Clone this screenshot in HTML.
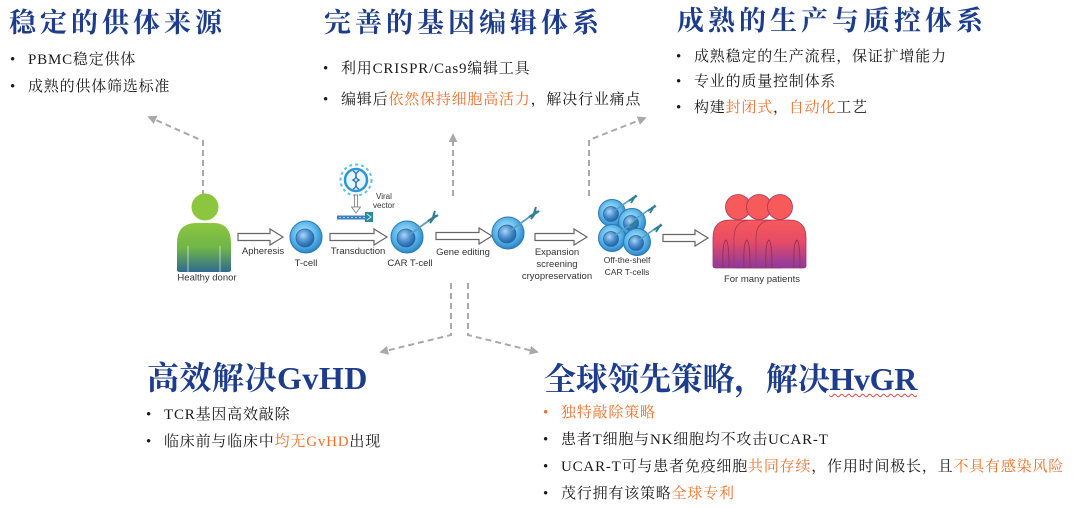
<!DOCTYPE html>
<html><head><meta charset="utf-8">
<style>
html,body{margin:0;padding:0;}
body{width:1080px;height:508px;background:#fff;position:relative;overflow:hidden;font-family:"Liberation Serif","Noto Serif CJK SC",serif;}
.t{position:absolute;font-family:"Liberation Serif","Noto Serif CJK SC",serif;font-weight:bold;color:#1d3d8c;font-size:27px;line-height:34px;letter-spacing:4px;white-space:nowrap;}
.t2{font-size:32px;line-height:38px;letter-spacing:0.5px;}
.t3{font-size:32px;line-height:38px;letter-spacing:-0.3px;}
.l{position:absolute;font-size:15px;line-height:20px;letter-spacing:0.8px;color:#1a1a1a;white-space:nowrap;padding-left:18px;}
.l::before{content:"•";position:absolute;left:0;top:0;}
.o{color:#f0702a;}
.lo::before{color:#f0702a;}
.wv{text-decoration:underline wavy #e04848;text-decoration-thickness:1px;text-underline-offset:3px;}
svg{position:absolute;left:0;top:0;}
svg text{font-family:"Liberation Sans",sans-serif;fill:#333;}
</style></head>
<body>
<svg width="1080" height="508" viewBox="0 0 1080 508">
<defs>
<marker id="ah" viewBox="0 0 10 10" refX="8" refY="5" markerWidth="4.5" markerHeight="4.5" orient="auto"><path d="M0,0 L10,5 L0,10 Z" fill="#a9a9a9"/></marker>
<linearGradient id="gGreen" x1="0" y1="0" x2="0" y2="1"><stop offset="0" stop-color="#8cc63f"/><stop offset="0.5" stop-color="#70b548"/><stop offset="1" stop-color="#2f6a90"/></linearGradient>
<linearGradient id="gRed" x1="0" y1="0" x2="0" y2="1"><stop offset="0" stop-color="#f65a5a"/><stop offset="0.45" stop-color="#e64c66"/><stop offset="1" stop-color="#8a3aa2"/></linearGradient>
<radialGradient id="gCell" cx="0.45" cy="0.4" r="0.6"><stop offset="0" stop-color="#c4e8fa"/><stop offset="0.6" stop-color="#5cb8ea"/><stop offset="1" stop-color="#2a84c6"/></radialGradient>
<radialGradient id="gNuc" cx="0.4" cy="0.35" r="0.7"><stop offset="0" stop-color="#aed6f3"/><stop offset="0.5" stop-color="#4b90d0"/><stop offset="1" stop-color="#1f5a9a"/></radialGradient>
<g id="cell"><circle r="16" fill="url(#gCell)" stroke="#2a78b6" stroke-width="1"/><circle r="9" cx="-1" cy="1" fill="url(#gNuc)" stroke="#2a6aa8" stroke-width="0.8"/></g>
<g id="cellS"><circle r="13.5" fill="url(#gCell)" stroke="#2a78b6" stroke-width="1"/><circle r="7.5" cx="-1" cy="1" fill="url(#gNuc)" stroke="#2a6aa8" stroke-width="0.8"/></g>
</defs>

<!-- dashed connectors -->
<g fill="none" stroke="#a9a9a9" stroke-width="2" stroke-dasharray="6,4">
<polyline points="203,196 203,141 149,117" marker-end="url(#ah)"/>
<polyline points="453,196 453,135" marker-end="url(#ah)"/>
<polyline points="589,196 589,140 645,118" marker-end="url(#ah)"/>
<polyline points="451,283 451,335 381,352" marker-end="url(#ah)"/>
<polyline points="468,283 468,335 537,352" marker-end="url(#ah)"/>
</g>

<!-- donor -->
<circle cx="205" cy="207" r="13.5" fill="#8cc63f"/>
<path d="M177,270 L177,243 Q177,224 195,223 L215,223 Q231,224 231,243 L231,270 Q231,272 228,272 L180,272 Q177,272 177,270 Z" fill="url(#gGreen)"/>
<path d="M188,272 L188,246 M220,272 L220,246" stroke="#ffffff" stroke-width="1" opacity="0.6"/>

<!-- block arrows -->
<g fill="#fff" stroke="#666" stroke-width="1.2">
<path d="M238,233.5 L270,233.5 L270,229 L283,237 L270,245 L270,240.5 L238,240.5 Z"/>
<path d="M330,233.5 L374,233.5 L374,229 L387,237 L374,245 L374,240.5 L330,240.5 Z"/>
<path d="M436,232.5 L479,232.5 L479,228 L492,236 L479,244 L479,239.5 L436,239.5 Z"/>
<path d="M535,233.5 L574,233.5 L574,229 L587,237 L574,245 L574,240.5 L535,240.5 Z"/>
<path d="M663,234.5 L695,234.5 L695,230 L708,238 L695,246 L695,241.5 L663,241.5 Z"/>
</g>

<!-- cells -->
<use href="#cell" x="306" y="237"/>
<use href="#cell" x="407" y="237"/>
<line x1="409" y1="235" x2="431" y2="219" stroke="#5a9ec4" stroke-width="1.8"/>
<path d="M428,221 L434,217 M430,223 L436,215 M432,219 L438,215 M433,217 L435,211" stroke="#2f7f96" stroke-width="2" fill="none"/>

<use href="#cell" x="508" y="233"/>
<line x1="510" y1="231" x2="532" y2="215" stroke="#5a9ec4" stroke-width="1.8"/>
<path d="M529,217 L535,213 M531,219 L537,211 M533,215 L539,211 M534,213 L536,207" stroke="#2f7f96" stroke-width="2" fill="none"/>

<!-- cluster -->
<use href="#cellS" x="612" y="213"/>
<line x1="614" y1="211" x2="631" y2="199" stroke="#5a9ec4" stroke-width="1.6"/>
<path d="M629,201 L634,197 M631,203 L636,195 M632,199 L637,196" stroke="#2f7f96" stroke-width="1.8" fill="none"/>
<use href="#cellS" x="632" y="222"/>
<line x1="634" y1="220" x2="650" y2="209" stroke="#5a9ec4" stroke-width="1.6"/>
<path d="M648,211 L653,207 M650,213 L655,205 M651,209 L656,206" stroke="#2f7f96" stroke-width="1.8" fill="none"/>
<use href="#cellS" x="612" y="238"/>
<line x1="614" y1="236" x2="632" y2="224" stroke="#5a9ec4" stroke-width="1.6"/>
<path d="M630,226 L635,222 M632,228 L637,220" stroke="#2f7f96" stroke-width="1.8" fill="none"/>
<use href="#cellS" x="637" y="242"/>
<line x1="639" y1="240" x2="656" y2="228" stroke="#5a9ec4" stroke-width="1.6"/>
<path d="M654,230 L659,226 M656,232 L661,224 M657,228 L662,225" stroke="#2f7f96" stroke-width="1.8" fill="none"/>

<!-- viral vector -->
<circle cx="356" cy="180" r="15.5" fill="none" stroke="#5bc0ee" stroke-width="2" stroke-dasharray="3,3"/>
<circle cx="356" cy="180" r="11" fill="#e6f4fc" stroke="#2f96d6" stroke-width="2.5"/>
<path d="M353,171 C359,174 353,177 359,180 C353,183 359,186 353,189" stroke="#2d6fb0" stroke-width="1.3" fill="none"/>
<path d="M359,171 C353,174 359,177 353,180 C359,183 353,186 359,189" stroke="#2d6fb0" stroke-width="1.3" fill="none"/>
<rect x="354.5" y="195" width="3" height="12" fill="#fff" stroke="#777" stroke-width="0.8"/>
<path d="M351.5,207 L360.5,207 L356,213 Z" fill="#fff" stroke="#777" stroke-width="0.8"/>
<rect x="337" y="215.5" width="30" height="4" fill="#3d7fc0"/>
<line x1="339" y1="217.5" x2="365" y2="217.5" stroke="#9ccbee" stroke-width="1" stroke-dasharray="2,2"/>
<rect x="365" y="212" width="8" height="10" fill="#2e8aa0"/>
<path d="M367,214 L371,217 L367,220" stroke="#cfeaf0" stroke-width="1" fill="none"/>
<text x="376" y="199" font-size="8">Viral</text>
<text x="373" y="208" font-size="8">vector</text>

<!-- patients -->
<g stroke="#a8345a" stroke-width="0.8">
<circle cx="738" cy="207" r="12.5" fill="#f65a5a"/>
<circle cx="759" cy="207" r="12.5" fill="#f65a5a"/>
<circle cx="780" cy="207" r="12.5" fill="#f65a5a"/>
<path d="M713,266 L713,238 Q713,220 730,220 L746,220 Q763,220 763,238 L763,266 Q763,268 760,268 L716,268 Q713,268 713,266 Z" fill="url(#gRed)"/>
<path d="M734,266 L734,238 Q734,220 751,220 L767,220 Q784,220 784,238 L784,266 Q784,268 781,268 L737,268 Q734,268 734,266 Z" fill="url(#gRed)"/>
<path d="M756,266 L756,238 Q756,220 773,220 L789,220 Q806,220 806,238 L806,266 Q806,268 803,268 L759,268 Q756,268 756,266 Z" fill="url(#gRed)"/>
</g>
<g stroke="#9a3050" stroke-width="1" fill="none">
<path d="M723,268 Q722,242 726,240 Q729,242 729,268"/>
<path d="M744,268 Q743,242 747,240 Q750,242 750,268"/>
<path d="M766,268 Q765,242 769,240 Q772,242 772,268"/>
<path d="M794,268 Q793,242 797,240 Q800,242 800,268"/>
</g>

<!-- labels -->
<g font-size="9.5" text-anchor="middle">
<text x="207" y="280.5">Healthy donor</text>
<text x="263" y="254">Apheresis</text>
<text x="306" y="266">T-cell</text>
<text x="358" y="254">Transduction</text>
<text x="410" y="266">CAR T-cell</text>
<text x="463" y="255">Gene editing</text>
<text x="557" y="255">Expansion</text>
<text x="557" y="267">screening</text>
<text x="557" y="279">cryopreservation</text>
<text x="627" y="263" font-size="8.5">Off-the-shelf</text>
<text x="627" y="275" font-size="8.5">CAR T-cells</text>
<text x="762" y="282">For many patients</text>
</g>
</svg>

<!-- titles -->
<div class="t" style="left:9px;top:6px;">稳定的供体来源</div>
<div class="t" style="left:324px;top:6px;">完善的基因编辑体系</div>
<div class="t" style="left:677px;top:4px;">成熟的生产与质控体系</div>
<div class="t t2" style="left:147px;top:359px;">高效解决GvHD</div>
<div class="t t3" style="left:544px;top:360px;">全球领先策略，解决<span class="wv">HvGR</span></div>

<!-- bullets -->
<div class="l" style="left:10px;top:50px;">PBMC稳定供体</div>
<div class="l" style="left:10px;top:77px;">成熟的供体筛选标准</div>

<div class="l" style="left:323px;top:59px;">利用CRISPR/Cas9编辑工具</div>
<div class="l" style="left:323px;top:90px;">编辑后<span class="o">依然保持细胞高活力</span>，解决行业痛点</div>

<div class="l" style="left:676px;top:47px;">成熟稳定的生产流程，保证扩增能力</div>
<div class="l" style="left:676px;top:72px;">专业的质量控制体系</div>
<div class="l" style="left:676px;top:98px;">构建<span class="o">封闭式</span>，<span class="o">自动化</span>工艺</div>

<div class="l" style="left:146px;top:405px;">TCR基因高效敲除</div>
<div class="l" style="left:146px;top:432px;">临床前与临床中<span class="o">均无GvHD</span>出现</div>

<div class="l lo" style="left:543px;top:403px;"><span class="o">独特敲除策略</span></div>
<div class="l" style="left:543px;top:430px;">患者T细胞与NK细胞均不攻击UCAR-T</div>
<div class="l" style="left:543px;top:457px;">UCAR-T可与患者免疫细胞<span class="o">共同存续</span>，作用时间极长，且<span class="o">不具有感染风险</span></div>
<div class="l" style="left:543px;top:484px;">茂行拥有该策略<span class="o">全球专利</span></div>
</body></html>
